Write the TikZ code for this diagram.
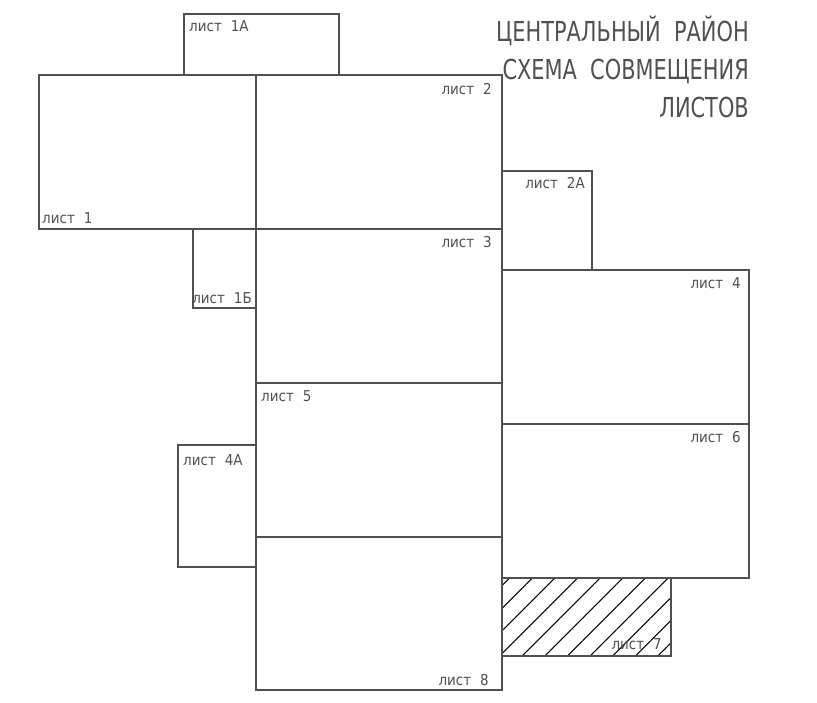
\documentclass[tikz,border=0pt]{standalone}
\usepackage{fontspec}
\setmainfont{DejaVu Sans}
\newfontfamily\titlefont[FakeStretch=0.76]{DejaVu Sans}
\newfontfamily\labelfont[FakeStretch=0.9]{DejaVu Sans}
\usetikzlibrary{patterns.meta}
\definecolor{sheetgray}{HTML}{505050}
\newcommand{\lsp}{\hspace{0.6em}}

\begin{document}
\begin{tikzpicture}[x=1pt,y=-1pt,
  sheet/.style={rectangle,draw=sheetgray,line width=1.4pt,inner sep=0pt,outer sep=0pt},
  lbl/.style={text=sheetgray,font=\labelfont\fontsize{15}{17}\selectfont,inner xsep=7pt,inner ysep=6pt},
  ttl/.style={text=sheetgray,font=\titlefont\fontsize{27.5}{30}\selectfont,inner sep=0pt,anchor=base east}]
\useasboundingbox (0,0) rectangle (817,703);
% sheets
\node[sheet,minimum width=155pt,minimum height=61pt] (s1A) at (261.5,44.5) {};
\node[sheet,minimum width=217pt,minimum height=154pt] (s1) at (147.5,152) {};
\node[sheet,minimum width=246pt,minimum height=154pt] (s2) at (379,152) {};
\node[sheet,minimum width=90pt,minimum height=99pt] (s2A) at (547,220.5) {};
\node[sheet,minimum width=246pt,minimum height=154pt] (s3) at (379,306) {};
\node[sheet,minimum width=63pt,minimum height=79pt] (s1B) at (224.5,268.5) {};
\node[sheet,minimum width=247pt,minimum height=154pt] (s4) at (625.5,347) {};
\node[sheet,minimum width=246pt,minimum height=154pt] (s5) at (379,460) {};
\node[sheet,minimum width=78pt,minimum height=122pt] (s4A) at (217,506) {};
\node[sheet,minimum width=247pt,minimum height=154pt] (s6) at (625.5,501) {};
\node[sheet,minimum width=169pt,minimum height=78pt,pattern={Lines[angle=45,distance=16pt,line width=1.1pt]},pattern color=black] (s7) at (586.5,617) {};
\node[sheet,minimum width=246pt,minimum height=153pt] (s8) at (379,613.5) {};
% labels
\node[lbl,anchor=north west,inner xsep=5pt] (l1A) at (s1A.north west) {лист\lsp 1А};
\node[lbl,anchor=south west,inner xsep=3pt,inner ysep=5pt] (l1) at (s1.south west) {лист\lsp 1};
\node[lbl,anchor=north east,inner xsep=10pt,inner ysep=8pt] (l2) at (s2.north east) {лист\lsp 2};
\node[lbl,anchor=north east] (l2A) at (s2A.north east) {лист\lsp 2А};
\node[lbl,anchor=north east,inner xsep=10pt,inner ysep=7pt] (l3) at (s3.north east) {лист\lsp 3};
\node[lbl,anchor=south east,inner xsep=4pt,inner ysep=4pt] (l1B) at (s1B.south east) {лист\lsp 1Б};
\node[lbl,anchor=north east,inner xsep=8pt,inner ysep=7pt] (l4) at (s4.north east) {лист\lsp 4};
\node[lbl,anchor=north west,inner xsep=5pt,inner ysep=7pt] (l5) at (s5.north west) {лист\lsp 5};
\node[lbl,anchor=north west,inner xsep=5pt,inner ysep=9pt] (l4A) at (s4A.north west) {лист\lsp 4А};
\node[lbl,anchor=north east,inner xsep=8pt,inner ysep=7pt] (l6) at (s6.north east) {лист\lsp 6};
\node[lbl,anchor=south east,inner xsep=9pt] (l7) at (s7.south east) {лист\lsp 7};
\node[lbl,anchor=south east,inner xsep=13pt,inner ysep=4pt] (l8) at (s8.south east) {лист\lsp 8};
% title
\node[ttl] (title1) at (749,42) {ЦЕНТРАЛЬНЫЙ\ \ РАЙОН};
\node[ttl] (title2) at (749,80) {СХЕМА\ \ СОВМЕЩЕНИЯ};
\node[ttl] (title3) at (749,118) {ЛИСТОВ};
\end{tikzpicture}
\end{document}
